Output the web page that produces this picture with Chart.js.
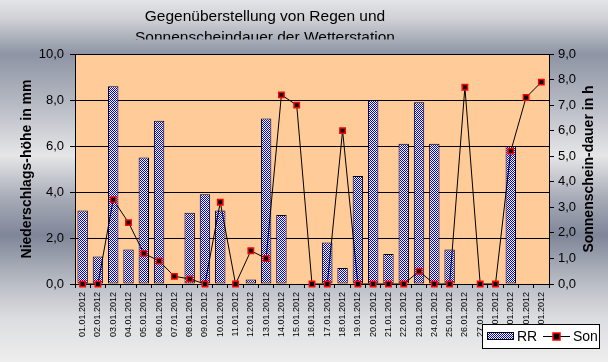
<!DOCTYPE html>
<html lang="de">
<head>
<meta charset="UTF-8">
<title>Regen und Sonnenscheindauer</title>
<script src="https://cdn.jsdelivr.net/npm/chart.js@4.4.1/dist/chart.umd.min.js"></script>
<style>
  body { margin: 0; background: #fff; }
  canvas { display: block; }
</style>
</head>
<body>
<canvas id="wetterChart" width="608" height="362"></canvas>
<script>
// Tage im Januar 2012
const tage = [
  '01.01.2012', '02.01.2012', '03.01.2012', '04.01.2012', '05.01.2012', '06.01.2012',
  '07.01.2012', '08.01.2012', '09.01.2012', '10.01.2012', '11.01.2012', '12.01.2012',
  '13.01.2012', '14.01.2012', '15.01.2012', '16.01.2012', '17.01.2012', '18.01.2012',
  '19.01.2012', '20.01.2012', '21.01.2012', '22.01.2012', '23.01.2012', '24.01.2012',
  '25.01.2012', '26.01.2012', '27.01.2012', '28.01.2012', '29.01.2012', '30.01.2012',
  '31.01.2012'
];
// Niederschlag in mm (RR)
const regen = [3.2, 1.2, 8.6, 1.5, 5.5, 7.1, 0, 3.1, 3.9, 3.2, 0, 0.2, 7.2, 3.0, 0, 0,
               1.8, 0.7, 4.7, 8.0, 1.3, 6.1, 7.9, 6.1, 1.5, 0, 0, 0, 6.0, 0, 0];
// Sonnenscheindauer in h (Son)
const sonne = [0, 0, 3.3, 2.4, 1.2, 0.9, 0.3, 0.2, 0, 3.2, 0, 1.3, 1.0, 7.4, 7.0, 0,
               0, 6.0, 0, 0, 0, 0, 0.5, 0, 0, 7.7, 0, 0, 5.2, 7.3, 7.9];
const regenAchse = { min: 0, max: 10, step: 2 };
const sonneAchse = { min: 0, max: 9, step: 1 };
const titelZeilen = ['Gegenüberstellung von Regen und', 'Sonnenscheindauer der Wetterstation'];

const schmal = "'Liberation Sans Narrow', 'Liberation Sans', Arial, sans-serif";
const normal = "'Liberation Sans', Arial, sans-serif";

function karoMuster(ctx) {
  const c = document.createElement('canvas');
  c.width = 2; c.height = 2;
  const g = c.getContext('2d');
  g.fillStyle = '#ffffff';
  g.fillRect(0, 0, 2, 2);
  g.fillStyle = '#0000ff';
  g.fillRect(0, 0, 1, 1);
  g.fillRect(1, 1, 1, 1);
  return ctx.createPattern(c, 'repeat');
}

function komma(v) {
  return v.toFixed(1).replace('.', ',');
}

const ctx = document.getElementById('wetterChart').getContext('2d');
const muster = karoMuster(ctx);

// Hintergrund, Titel und Zeichenfläche
const hintergrund = {
  id: 'hintergrund',
  beforeDraw(chart) {
    const c = chart.ctx;
    const h = chart.height;
    const grad = c.createLinearGradient(0, 0, 0, h);
    grad.addColorStop(0.00, '#e4e4e6');
    grad.addColorStop(0.05, '#d0d2d6');
    grad.addColorStop(0.15, '#8e94a4');
    grad.addColorStop(0.28, '#b4b8c2');
    grad.addColorStop(0.43, '#e6e6e8');
    grad.addColorStop(0.55, '#a6aab6');
    grad.addColorStop(0.65, '#7f8698');
    grad.addColorStop(0.78, '#b8bcc4');
    grad.addColorStop(0.88, '#dcdde0');
    grad.addColorStop(1.00, '#eeeeee');
    c.save();
    c.fillStyle = grad;
    c.fillRect(0, 0, chart.width, h);

    // Titel (zweite Zeile wird abgeschnitten wie im Original)
    c.beginPath();
    c.rect(0, 0, chart.width, 39.5);
    c.clip();
    c.fillStyle = '#000';
    c.font = '15.5px ' + normal;
    c.textAlign = 'center';
    c.textBaseline = 'alphabetic';
    c.fillText(titelZeilen[0], 265, 21);
    c.fillText(titelZeilen[1], 265, 42);
    c.restore();

    const a = chart.chartArea;
    c.save();
    c.fillStyle = '#ffcc99';
    c.fillRect(a.left, a.top, a.right - a.left, a.bottom - a.top);
    c.restore();
  },
  afterDraw(chart) {
    const c = chart.ctx;
    const a = chart.chartArea;
    const mitte = (a.top + a.bottom) / 2;
    c.save();
    c.fillStyle = '#000';
    c.font = 'bold 14px ' + normal;
    c.textAlign = 'center';
    c.textBaseline = 'middle';
    c.translate(27, mitte);
    c.rotate(-Math.PI / 2);
    c.fillText('Niederschlags-höhe in mm', 0, 0);
    c.restore();

    c.save();
    c.fillStyle = '#000';
    c.font = 'bold 14px ' + normal;
    c.textAlign = 'center';
    c.textBaseline = 'middle';
    c.translate(589, mitte);
    c.rotate(-Math.PI / 2);
    c.fillText('Sonnenschein-dauer in h', 0, 0);
    c.restore();

    // Legende
    c.save();
    c.fillStyle = '#fff';
    c.fillRect(482, 324, 117, 24);
    c.strokeStyle = '#000';
    c.lineWidth = 1;
    c.strokeRect(482.5, 324.5, 117, 24);
    c.fillStyle = muster;
    c.fillRect(487, 332, 27, 8);
    c.strokeRect(487.5, 332.5, 26, 7);
    c.fillStyle = '#000';
    c.font = '14px ' + normal;
    c.textBaseline = 'middle';
    c.textAlign = 'left';
    c.fillText('RR', 517, 337);
    c.beginPath();
    c.moveTo(543, 336.5);
    c.lineTo(570, 336.5);
    c.stroke();
    c.fillStyle = '#000';
    c.fillRect(553, 333, 7, 7);
    c.strokeStyle = '#ff0000';
    c.lineWidth = 1.5;
    c.strokeRect(553, 333, 7, 7);
    c.fillStyle = '#000';
    c.fillText('Son', 573, 337);
    c.restore();
  }
};

new Chart(ctx, {
  type: 'bar',
  data: {
    labels: tage,
    datasets: [
      {
        type: 'line',
        label: 'Son',
        data: sonne,
        yAxisID: 'y2',
        order: 0,
        borderColor: '#000',
        borderWidth: 1,
        tension: 0,
        pointStyle: 'rect',
        pointRadius: 3.8,
        pointBackgroundColor: '#000',
        pointBorderColor: '#ff0000',
        pointBorderWidth: 1.5,
        clip: false
      },
      {
        label: 'RR',
        data: regen,
        yAxisID: 'y',
        order: 1,
        backgroundColor: muster,
        borderColor: '#000',
        borderWidth: 1,
        borderSkipped: false,
        categoryPercentage: 1,
        barPercentage: 0.68
      }
    ]
  },
  options: {
    responsive: false,
    animation: false,
    layout: { padding: { top: 54, left: 0, right: 0, bottom: 0 } },
    plugins: {
      legend: { display: false },
      title: { display: false },
      tooltip: { enabled: false }
    },
    scales: {
      x: {
        grid: { offset: true, drawOnChartArea: false, tickLength: 4, color: '#000' },
        border: { color: '#000' },
        ticks: {
          autoSkip: false,
          maxRotation: 90,
          minRotation: 90,
          padding: 4,
          color: '#000',
          font: { family: schmal, size: 9 }
        },
        afterFit(s) { s.height = 78; }
      },
      y: {
        position: 'left',
        min: regenAchse.min,
        max: regenAchse.max,
        ticks: {
          stepSize: regenAchse.step,
          padding: 6,
          color: '#000',
          font: { family: schmal, size: 13 },
          callback: v => komma(v)
        },
        grid: { color: '#000', tickLength: 5 },
        border: { color: '#000' },
        afterFit(s) { s.width = 75; }
      },
      y2: {
        position: 'right',
        min: sonneAchse.min,
        max: sonneAchse.max,
        ticks: {
          stepSize: sonneAchse.step,
          padding: 4,
          color: '#000',
          font: { family: schmal, size: 13 },
          callback: v => komma(v)
        },
        grid: { drawOnChartArea: false, color: '#000', tickLength: 5 },
        border: { color: '#000' },
        afterFit(s) { s.width = 59; }
      }
    }
  },
  plugins: [hintergrund]
});
</script>
</body>
</html>
